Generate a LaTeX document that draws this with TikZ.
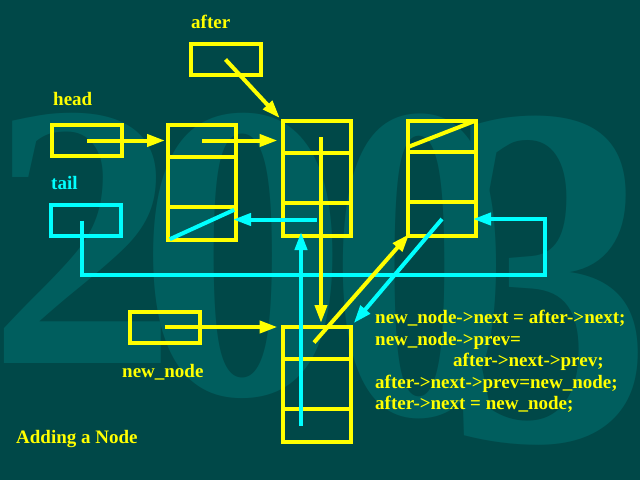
\documentclass[tikz,border=0pt]{standalone}
\usepackage{fontspec}
\setmainfont{Liberation Serif}
\usetikzlibrary{arrows.meta}
\definecolor{fond}{HTML}{004848}
\definecolor{filigrane}{HTML}{005E5E}
\definecolor{jaune}{HTML}{FFFF00}
\definecolor{cyan}{HTML}{00FFFF}
\tikzset{
  maillon/.style={draw=jaune, line width=4pt, minimum width=68pt, minimum height=115pt, inner sep=0pt, outer sep=0pt},
  pointeur/.style={draw=jaune, line width=4pt, minimum width=70pt, minimum height=31pt, inner sep=0pt, outer sep=0pt},
  suiv/.style={draw=jaune, line width=4pt, -{Triangle[length=18pt,width=12pt]}},
  prec/.style={draw=cyan, line width=4pt, -{Triangle[length=18pt,width=12pt]}},
  texte/.style={text=jaune, font=\bfseries\fontsize{19}{21}\selectfont, inner sep=0pt, anchor=base west},
  chiffre/.style={text=filigrane, inner sep=0pt, anchor=base west}
}
\begin{document}
\begin{tikzpicture}[x=1pt,y=-1pt]
    \fill[fond] (0,0) rectangle (640,480);
    \useasboundingbox (0,0) rectangle (640,480);
    % Filigrane 2003
    \node[chiffre, font=\bfseries\fontsize{378}{378}\selectfont] (w1) at (-12,363) {2};
    \node[chiffre, font=\bfseries\fontsize{423}{423}\selectfont] (w2) at (137,394) {0};
    \node[chiffre, font=\bfseries\fontsize{452}{452}\selectfont] (w3) at (329,414) {\scalebox{0.8}[1]{0}};
    \node[chiffre, font=\bfseries\fontsize{490}{490}\selectfont] (w4) at (446,440) {\scalebox{0.84}[1]{3}};
    % Etiquettes
    \node[texte] (afterlbl) at (191,28) {after};
    \node[texte] (headlbl) at (53,105) {head};
    \node[texte, text=cyan] (taillbl) at (51,189) {tail};
    \node[texte] (newlbl) at (122,377) {new\_node};
    \node[texte] (titre) at (16,443) {Adding a Node};
    % Code
    \node[texte] (code1) at (375,323) {new\_node->next = after->next;};
    \node[texte] (code2) at (375,345) {new\_node->prev=};
    \node[texte] (code3) at (453,366) {after->next->prev;};
    \node[texte] (code4) at (375,388) {after->next->prev=new\_node;};
    \node[texte] (code5) at (375,409) {after->next = new\_node;};
    % Pointeurs
    \node[pointeur] (after) at (225.5,59.5) {};
    \node[pointeur] (head) at (87,140.5) {};
    \node[pointeur, draw=cyan] (tail) at (86,220.5) {};
    \node[pointeur] (newnode) at (164.5,327) {};
    % Maillons
    \node[maillon] (n1) at (202,182.5) {};
    \node[maillon] (n2) at (316.5,178.5) {};
    \node[maillon] (n3) at (442,178) {};
    \node[maillon] (nn) at (316.5,384.5) {};
    \foreach \m in {n1,n2,n3,nn}{
      \draw[jaune, line width=4pt] ([yshift=26pt]\m.west) -- ([yshift=26pt]\m.east); % champ suivant
      \draw[jaune, line width=4pt] ([yshift=-24pt]\m.west) -- ([yshift=-24pt]\m.east); % champ precedent
    }
    % Fins de liste
    \draw[cyan, line width=4pt, shorten <=2pt, shorten >=2pt] (n1.south west) -- ([yshift=-26.5pt]n1.east);
    \draw[jaune, line width=4pt, shorten >=2pt] ([yshift=31pt]n3.west) -- (n3.north east);
    % Departs des liens
    \coordinate (n1next) at ([yshift=42pt]n1.center);
    \coordinate (n2next) at ([xshift=4.5pt,yshift=41.5pt]n2.center);
    \coordinate (n2prev) at ([yshift=-41pt]n2.center);
    \coordinate (n3prev) at ([yshift=-41pt]n3.center);
    \coordinate (nnnext) at ([xshift=-2.5pt,yshift=42pt]nn.center);
    \coordinate (nnprev) at ([xshift=-15.5pt,yshift=-41pt]nn.center);
    \coordinate (tailturn) at (545,275);
    % Liens
    \draw[prec, shorten >=-3pt] ([xshift=-4pt]tail.center) |- (tailturn) |- (n3prev -| n3.east); % tail
    \draw[suiv, shorten >=4pt] (after.center) -- (n2.north west); % after
    \draw[suiv, shorten >=3pt] (head.center) -- (head.center -| n1.west); % head
    \draw[suiv, shorten >=5pt] (n1next) -- (n1next -| n2.west);
    \draw[prec, shorten >=-3pt] (n2prev) -- (n2prev -| n1.east);
    \draw[suiv, shorten >=4pt] (n2next) -- (n2next |- nn.north);
    \draw[prec, shorten >=5pt] (n3prev) -- (nn.north east);
    \draw[suiv, shorten >=5pt] (newnode.center) -- (newnode.center -| nn.west); % new_node
    \draw[suiv, shorten >=-2pt] (nnnext) -- (n3.south west);
    \draw[prec, shorten >=-4pt] (nnprev) -- (nnprev |- n2.south);
\end{tikzpicture}
\end{document}
